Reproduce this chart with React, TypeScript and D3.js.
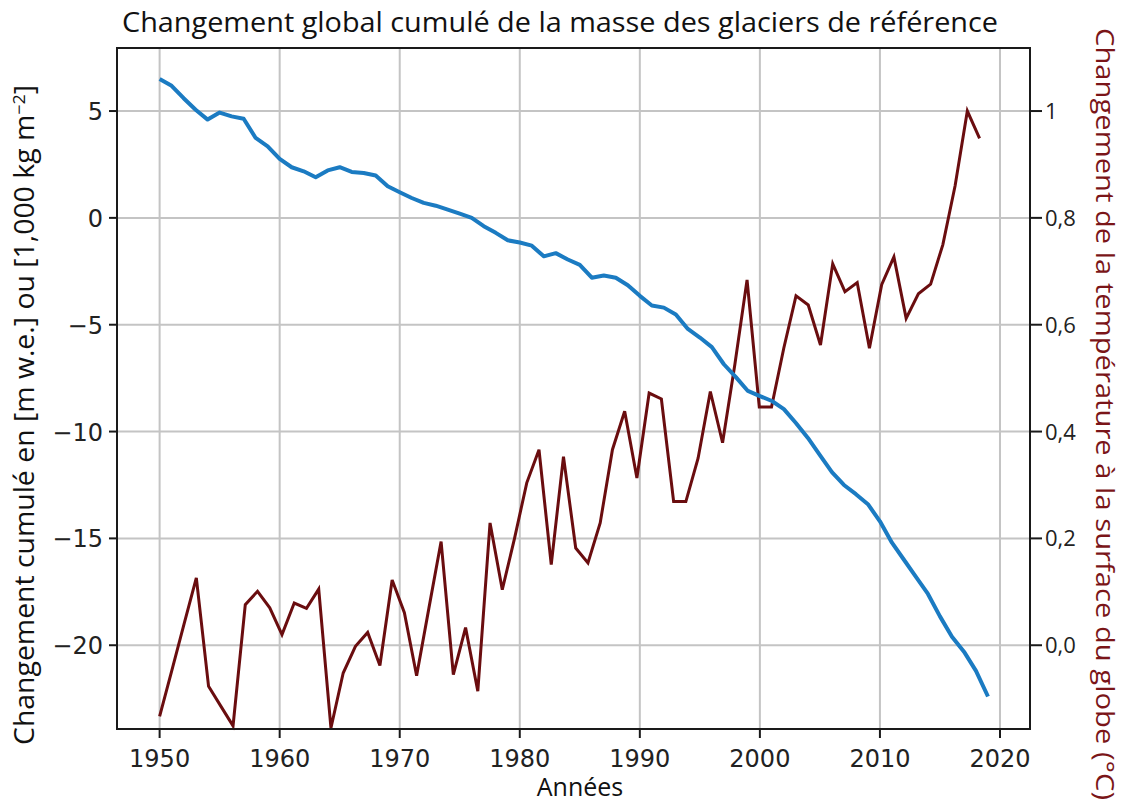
import React from 'react'
import { scaleLinear, line } from 'd3'

// cumulative glacier mass change [m w.e.], 1950-2019
const glacierYears = [
    1950, 1951, 1952, 1953, 1954, 1955, 1956, 1957, 1958, 1959,
    1960, 1961, 1962, 1963, 1964, 1965, 1966, 1967, 1968, 1969,
    1970, 1971, 1972, 1973, 1974, 1975, 1976, 1977, 1978, 1979,
    1980, 1981, 1982, 1983, 1984, 1985, 1986, 1987, 1988, 1989,
    1990, 1991, 1992, 1993, 1994, 1995, 1996, 1997, 1998, 1999,
    2000, 2001, 2002, 2003, 2004, 2005, 2006, 2007, 2008, 2009,
    2010, 2011, 2012, 2013, 2014, 2015, 2016, 2017, 2018, 2019,
]
const glacierMass = [
    6.5, 6.18, 5.6, 5.06, 4.6, 4.93, 4.75, 4.64, 3.74, 3.35,
    2.76, 2.37, 2.18, 1.9, 2.22, 2.37, 2.15, 2.1, 1.98, 1.48,
    1.2, 0.93, 0.7, 0.57, 0.39, 0.2, 0.0, -0.39, -0.7, -1.05,
    -1.15, -1.3, -1.8, -1.65, -1.95, -2.2, -2.8, -2.7, -2.8, -3.15,
    -3.65, -4.1, -4.2, -4.52, -5.2, -5.6, -6.05, -6.85, -7.45, -8.1,
    -8.34, -8.57, -8.95, -9.6, -10.3, -11.1, -11.9, -12.5, -12.93, -13.4,
    -14.2, -15.2, -16.0, -16.8, -17.6, -18.65, -19.6, -20.3, -21.2, -22.4,
]

// global surface temperature change [°C], 1950-2017
const tempYears = [
    1950, 1951, 1952, 1953, 1954, 1955, 1956, 1957, 1958, 1959,
    1960, 1961, 1962, 1963, 1964, 1965, 1966, 1967, 1968, 1969,
    1970, 1971, 1972, 1973, 1974, 1975, 1976, 1977, 1978, 1979,
    1980, 1981, 1982, 1983, 1984, 1985, 1986, 1987, 1988, 1989,
    1990, 1991, 1992, 1993, 1994, 1995, 1996, 1997, 1998, 1999,
    2000, 2001, 2002, 2003, 2004, 2005, 2006, 2007, 2008, 2009,
    2010, 2011, 2012, 2013, 2014, 2015, 2016, 2017,
]
const tempChange = [
    -0.133, -0.047, 0.04, 0.126, -0.077, -0.114, -0.151, 0.076, 0.101, 0.07,
    0.02, 0.079, 0.069, 0.105, -0.155, -0.052, -0.002, 0.024, -0.038, 0.122,
    0.061, -0.057, 0.069, 0.194, -0.055, 0.033, -0.086, 0.229, 0.104, 0.2,
    0.304, 0.366, 0.151, 0.353, 0.182, 0.154, 0.229, 0.366, 0.438, 0.313,
    0.472, 0.461, 0.269, 0.269, 0.35, 0.475, 0.379, 0.525, 0.684, 0.446,
    0.446, 0.556, 0.654, 0.637, 0.562, 0.714, 0.662, 0.679, 0.556, 0.675,
    0.727, 0.612, 0.658, 0.676, 0.75, 0.86, 1.0, 0.949,
]

const xTicks = [1950, 1960, 1970, 1980, 1990, 2000, 2010, 2020]
const leftTicks = [5, 0, -5, -10, -15, -20]
const leftTickLabels = ['5', '0', '−5', '−10', '−15', '−20']
const rightTicks = [1, 0.8, 0.6, 0.4, 0.2, 0.0]
const rightTickLabels = ['1', '0,8', '0,6', '0,4', '0,2', '0,0']

const title = 'Changement global cumulé de la masse des glaciers de référence'
const xLabel = 'Années'
const rightLabel = 'Changement de la température à la surface du globe (°C)'

const W = 1129
const H = 807
const left = 117
const right = 1030
const top = 48
const bottom = 729

const BLUE = '#1b7bc2'
const RED = '#6a0d0f'
const GRID = '#c4c4c4'
const tickFont = '"DejaVu Sans", sans-serif'
const labelFont = '"Open Sans", sans-serif'

const App = () => {
    const x = scaleLinear().domain([1946.45, 2022.5]).range([left, right])
    // the temperature curve is slightly stretched in the source figure
    const xTemp = scaleLinear().domain([1950, 2017]).range([x(1950), x(2018.3)])
    const yLeft = scaleLinear().domain([-23.92, 7.95]).range([bottom, top])
    const yRight = scaleLinear().domain([-0.1568, 1.118]).range([bottom, top])

    const glacierLine = line<number>()
        .x((d, i) => x(glacierYears[i]))
        .y(d => yLeft(d))
    const tempLine = line<number>()
        .x((d, i) => xTemp(tempYears[i]))
        .y(d => yRight(d))

    return (
        <svg width={W} height={H} style={{ position: 'absolute', left: 0, top: 0, background: '#fff' }}>
            {/* grid */}
            {xTicks.map(t => (
                <line key={'gx' + t} x1={x(t)} x2={x(t)} y1={top} y2={bottom} stroke={GRID} strokeWidth={2} />
            ))}
            {leftTicks.map(t => (
                <line key={'gy' + t} x1={left} x2={right} y1={yLeft(t)} y2={yLeft(t)} stroke={GRID} strokeWidth={2} />
            ))}

            {/* series */}
            <path d={tempLine(tempChange) || ''} fill="none" stroke={RED} strokeWidth={3} strokeLinejoin="miter" />
            <path d={glacierLine(glacierMass) || ''} fill="none" stroke={BLUE} strokeWidth={4} strokeLinejoin="round" />

            {/* frame */}
            <rect x={left} y={top} width={right - left} height={bottom - top} fill="none" stroke="#1a1a1a" strokeWidth={2} />

            {/* x axis */}
            {xTicks.map(t => (
                <g key={'xt' + t}>
                    <line x1={x(t)} x2={x(t)} y1={bottom} y2={bottom + 9} stroke="#1a1a1a" strokeWidth={2} />
                    <text x={x(t)} y={bottom + 38} textAnchor="middle" fontFamily={tickFont} fontSize={24} fill="#222">{t}</text>
                </g>
            ))}

            {/* left axis */}
            {leftTicks.map((t, i) => (
                <g key={'lt' + t}>
                    <line x1={left - 8} x2={left} y1={yLeft(t)} y2={yLeft(t)} stroke="#1a1a1a" strokeWidth={2} />
                    <text x={left - 14} y={yLeft(t) + 9} textAnchor="end" fontFamily={tickFont} fontSize={24} fill="#222">{leftTickLabels[i]}</text>
                </g>
            ))}

            {/* right axis */}
            {rightTicks.map((t, i) => (
                <g key={'rt' + t}>
                    <line x1={right} x2={right + 12} y1={yRight(t)} y2={yRight(t)} stroke="#1a1a1a" strokeWidth={2} />
                    <text x={right + 15} y={yRight(t) + 8} textAnchor="start" fontFamily={labelFont} fontSize={22} fill="#222">{rightTickLabels[i]}</text>
                </g>
            ))}

            {/* titles */}
            <text x={560} y={32} textAnchor="middle" fontFamily={labelFont} fontSize={27} fill="#111"
                textLength={876} lengthAdjust="spacingAndGlyphs">{title}</text>
            <text x={580} y={796} textAnchor="middle" fontFamily={labelFont} fontSize={25} fill="#111">{xLabel}</text>
            <text transform="translate(34,415) rotate(-90)" textAnchor="middle" fontFamily={labelFont} fontSize={27} fill="#111"
                textLength={660} lengthAdjust="spacingAndGlyphs">
                Changement cumulé en [m w.e.] ou [1,000 kg m<tspan dy={-9} fontSize={17}>−2</tspan><tspan dy={9}>]</tspan>
            </text>
            <text transform="translate(1096,414) rotate(90)" textAnchor="middle" fontFamily={labelFont} fontSize={26} fill="#7a1518"
                textLength={772} lengthAdjust="spacingAndGlyphs">{rightLabel}</text>
        </svg>
    )
}

export default App
